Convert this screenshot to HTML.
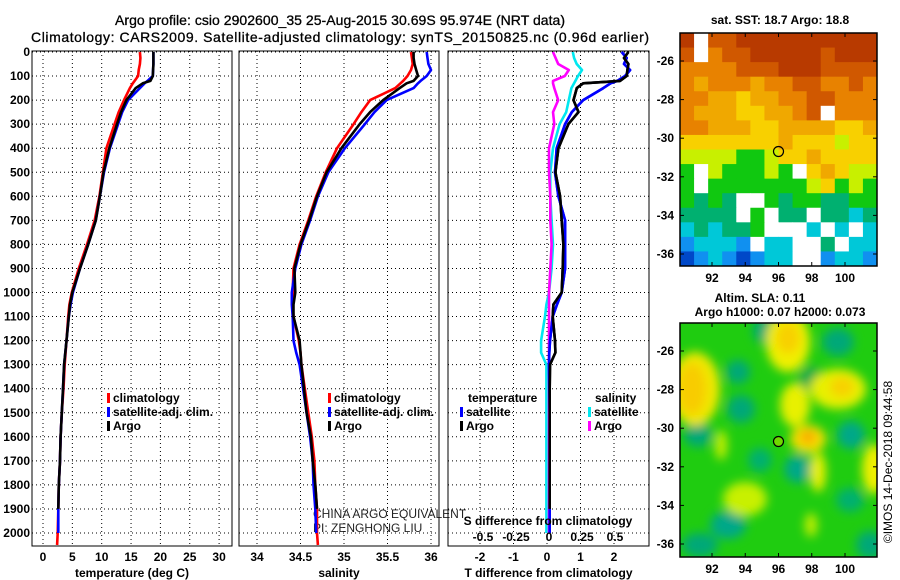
<!DOCTYPE html>
<html><head><meta charset="utf-8">
<style>
html,body{margin:0;padding:0;background:#fff;}
svg{display:block;font-family:"Liberation Sans",sans-serif;}
.tk{font-size:12px;font-weight:bold;}
</style></head>
<body>
<svg id="chart" width="900" height="580" viewBox="0 0 900 580" xmlns="http://www.w3.org/2000/svg">
<defs>
<filter id="blur" x="-20%" y="-20%" width="140%" height="140%"><feGaussianBlur stdDeviation="5"/></filter>
<clipPath id="clipSla"><rect x="680" y="323" width="197" height="234"/></clipPath>
</defs>
<text x="340" y="25" text-anchor="middle" font-size="14" stroke="#000" stroke-width="0.3" textLength="450">Argo profile: csio 2902600_35 25-Aug-2015 30.69S 95.974E (NRT data)</text>
<text x="340" y="42" text-anchor="middle" font-size="14" stroke="#000" stroke-width="0.3" textLength="618">Climatology: CARS2009. Satellite-adjusted climatology: synTS_20150825.nc (0.96d earlier)</text>
<text x="780" y="24" text-anchor="middle" class="tk">sat. SST: 18.7 Argo: 18.8</text>
<text x="760" y="302" text-anchor="middle" class="tk">Altim. SLA: 0.11</text>
<text x="780" y="316" text-anchor="middle" class="tk">Argo h1000: 0.07 h2000: 0.073</text>
<text transform="translate(892,462) rotate(-90)" text-anchor="middle" font-size="12">©IMOS 14-Dec-2018 09:44:58</text>
<text x="313" y="518" font-size="12" fill="#222">CHINA ARGO EQUIVALENT</text>
<text x="313" y="532" font-size="12" fill="#222">PI: ZENGHONG LIU</text>
<g id="g"></g>
</svg>
<script>
const depths=[0,25,50,75,100,120,130,150,200,250,300,400,500,600,700,800,900,1000,1050,1100,1200,1250,1300,1400,1500,1600,1700,1800,1900,2000,2050];
const tClim=[16.5,16.6,16.5,16.3,16.2,15.6,15.3,14.8,13.8,12.9,12.2,10.8,10.2,9.6,8.8,7.5,6.1,4.9,4.5,4.3,4.0,3.85,3.7,3.5,3.2,3.0,2.9,2.7,2.6,2.5,2.4];
const tSat=[18.8,18.8,18.8,18.75,18.7,17.8,17.3,16.5,14.5,13.5,12.8,11.4,10.4,9.7,9.0,7.7,6.3,5.1,4.7,4.4,4.0,3.8,3.6,3.4,3.2,3.0,2.9,2.7,2.6,2.6,null];
const tArgo=[18.8,18.8,18.8,18.75,18.7,18.3,17.0,15.8,14.2,13.3,12.6,11.3,10.3,9.7,9.0,7.7,6.3,5.0,4.6,4.4,4.0,3.8,3.6,3.4,3.2,3.0,2.9,2.7,2.6,null,null];
const sClim=[35.77,35.78,35.79,35.77,35.73,35.68,35.65,35.59,35.30,35.2,35.11,34.92,34.79,34.68,34.59,34.49,34.42,34.41,34.41,34.42,34.48,34.5,34.51,34.55,34.59,34.63,34.66,34.67,34.69,34.69,34.70];
const sSat=[35.95,35.96,35.97,36.0,35.95,35.88,35.85,35.80,35.49,35.35,35.24,35.01,34.82,34.70,34.61,34.51,34.44,34.40,34.40,34.41,34.42,34.45,34.49,34.53,34.57,34.61,34.64,34.65,34.67,34.68,null];
const sArgo=[35.80,35.80,35.81,35.83,35.85,35.80,35.72,35.64,35.45,35.30,35.18,34.97,34.80,34.69,34.60,34.50,34.43,34.44,34.42,34.42,34.49,34.50,34.51,34.54,34.57,34.62,34.64,34.67,34.69,null,null];
const dTSat=[2.23,2.38,2.3,2.48,2.33,2.1,1.9,1.68,1.08,0.74,0.54,0.29,0.24,0.34,0.54,0.54,0.54,0.44,0.3,0.17,0.09,0.07,0.06,0.07,0.08,0.08,0.08,0.08,0.08,0.08,null];
const dTArgo=[2.43,2.3,2.43,2.4,2.38,2.18,1.08,0.89,0.79,0.94,0.64,0.34,0.25,0.39,0.44,0.49,0.47,0.44,0.19,0.17,0.24,0.25,0.09,0.08,0.08,0.08,0.08,0.08,0.08,null,null];
const dSSat=[0.18,0.19,0.21,0.25,0.22,0.2,0.19,0.17,0.15,0.13,0.08,0.03,0.01,0.01,0.02,0.03,0.02,0.0,-0.02,-0.03,-0.06,-0.06,-0.02,-0.02,-0.02,-0.02,-0.02,-0.02,-0.02,-0.02,null];
const dSArgo=[0.03,0.05,0.07,0.15,0.12,0.03,0.03,0.04,0.07,0.03,0.04,0.0,0.0,0.01,0.01,0.02,0.01,0.0,0.0,0.0,0.0,0.0,0.0,0.0,0.0,0.0,0.0,0.0,0.0,0.0,null];
const depthTicks=[0,100,200,300,400,500,600,700,800,900,1000,1100,1200,1300,1400,1500,1600,1700,1800,1900,2000];
const tTicks=[0,5,10,15,20,25,30];
const sTicks=[34,34.5,35,35.5,36];
const sTickLabels=["34","34.5","35","35.5","36"];
const dtTicks=[-2,-1,0,1,2];
const dsTicks=[-0.5,-0.25,0,0.25,0.5];
const dsTickLabels=["-0.5","-0.25","0","0.25","0.5"];
const lonTicks=[92,94,96,98,100];
const latTicks=[-26,-28,-30,-32,-34,-36];
const sstGrid=[
[0,-1,1,1,0,0,0,0,0,0,0,0,0,0],
[1,-1,2,1,1,0,0,0,0,0,1,0,0,0],
[2,2,2,2,1,1,1,0,0,0,1,1,1,1],
[2,3,2,2,2,3,2,2,1,1,2,2,1,2],
[2,2,3,3,4,3,3,2,2,1,1,2,2,2],
[2,3,3,3,4,4,3,3,2,1,-1,2,2,2],
[2,2,3,3,3,4,4,3,3,3,3,4,4,3],
[4,4,4,4,4,4,4,3,4,4,4,5,4,4],
[5,5,5,5,6,6,5,4,4,3,4,4,4,4],
[6,-1,5,6,6,6,5,6,-1,4,3,4,5,5],
[6,-1,6,6,6,6,6,6,6,5,4,6,5,6],
[6,7,6,7,-1,-1,6,7,6,6,7,7,6,6],
[7,7,7,7,-1,6,-1,7,7,-1,7,7,8,7],
[8,7,8,7,7,6,-1,-1,-1,8,-1,8,-1,8],
[9,8,8,8,9,-1,8,8,-1,-1,7,-1,8,8],
[10,9,8,9,10,9,8,8,-1,-1,9,8,8,9]];
const sstColors=["#b83a00","#d05800","#e88200","#f0a800","#f8d000","#c8f000","#10c810","#00b070","#00c8d8","#1090f0","#0048c8"];
const argoLon=96.0, argoLat=-30.69;

const NS="http://www.w3.org/2000/svg";
const g=document.getElementById('g');
function mk(tag,attrs,parent){const e=document.createElementNS(NS,tag);for(const k in attrs)e.setAttribute(k,attrs[k]);(parent||g).appendChild(e);return e;}
function txt(x,y,s,anchor,cls,parent){const t=mk('text',{x:x,y:y,'text-anchor':anchor||'middle'},parent);if(cls)t.setAttribute('class',cls);t.textContent=s;return t;}
const yTop=51,yBot=546;
function yD(d){return 52+0.2405*d;}

const panels=[
 {name:'temperature',x0:32,x1:232,f:v=>43+5.87*v,ticks:tTicks,labels:tTicks.map(String),title:'temperature (deg C)',series:[[tClim,'#f00'],[tSat,'#00f'],[tArgo,'#000']]},
 {name:'salinity',x0:239,x1:439,f:v=>257+87*(v-34),ticks:sTicks,labels:sTickLabels,title:'salinity',series:[[sClim,'#f00'],[sSat,'#00f'],[sArgo,'#000']]},
 {name:'difference',x0:448,x1:649,f:v=>547+33.5*v,ticks:dtTicks,labels:dtTicks.map(String),title:'T difference from climatology',series:[[dTSat,'#00f'],[dTArgo,'#000']]}
];
const fS=v=>549+132*v;

panels.forEach(p=>{
  const pg=mk('g',{});
  
  
  depthTicks.forEach(d=>{const l=mk('line',{x1:p.x0,x2:p.x1,y1:yD(d),y2:yD(d),stroke:'#000','stroke-width':1,'stroke-dasharray':'1,3'},pg);
    
    });
  p.ticks.forEach((v,i)=>{const x=p.f(v);
    const l=mk('line',{x1:x,x2:x,y1:yTop,y2:yBot,stroke:'#000','stroke-width':1,'stroke-dasharray':'1,3'},pg);
    
    
    const t=txt(x,561,p.labels[i],'middle','tk',pg);
    
    });
  const at=txt((p.x0+p.x1)/2,577,p.title,'middle','tk',pg);
  
  
  p.series.forEach(([arr,col])=>{
    let pts=[];depths.forEach((d,i)=>{if(arr[i]!==null)pts.push(p.f(arr[i]).toFixed(1)+','+yD(d).toFixed(1));});
    const pl=mk('polyline',{points:pts.join(' '),fill:'none',stroke:col,'stroke-width':2.6,'stroke-linejoin':'round'},pg);
    
    
  });
  const fr=mk('rect',{x:p.x0,y:yTop,width:p.x1-p.x0,height:yBot-yTop,fill:'none',stroke:'#000','stroke-width':1},pg);
  
  
});
[[dSSat,'#00e8f0'],[dSArgo,'#f0f']].forEach(([arr,col])=>{
  let pts=[];depths.forEach((d,i)=>{if(arr[i]!==null)pts.push(fS(arr[i]).toFixed(1)+','+yD(d).toFixed(1));});
  const pl=mk('polyline',{points:pts.join(' '),fill:'none',stroke:col,'stroke-width':2.6,'stroke-linejoin':'round'});
  
  
});
panels[2].series.forEach(([arr,col])=>{
  let pts=[];depths.forEach((d,i)=>{if(arr[i]!==null)pts.push(panels[2].f(arr[i]).toFixed(1)+','+yD(d).toFixed(1));});
  const pl=mk('polyline',{points:pts.join(' '),fill:'none',stroke:col,'stroke-width':2.6,'stroke-linejoin':'round'});
  
  
});
const sdt=txt(548,525,'S difference from climatology','middle','tk');


dsTicks.forEach((v,i)=>{const t=txt(fS(v),541,dsTickLabels[i],'middle','tk');
  
  });
depthTicks.forEach(d=>{const t=txt(30,yD(d)+4,String(d),'end','tk');
  
  });
function legend(x,y,col,label){const lg=mk('g',{});
  
  
  mk('rect',{x:x,y:y-9,width:3,height:10,fill:col},lg);
  txt(x+6,y,label,'start','tk',lg);}
legend(107,402,'#f00','climatology');legend(107,416,'#00f','satellite-adj. clim.');legend(107,430,'#000','Argo');
legend(328,402,'#f00','climatology');legend(328,416,'#00f','satellite-adj. clim.');legend(328,430,'#000','Argo');
const lt=txt(468,402,'temperature','start','tk');
legend(460,416,'#00f','satellite');legend(460,430,'#000','Argo');
const ls=txt(595,402,'salinity','start','tk');
legend(588,416,'#00e8f0','satellite');legend(588,430,'#f0f','Argo');

function lonX(l){return 712+16.625*(l-92);}
function mapAxes(top,bot,lat26,name){
  const latY=l=>lat26+19.3*(-26-l);
  const ag=mk('g',{});
  
  
  mk('rect',{x:680,y:top,width:197,height:bot-top,fill:'none',stroke:'#000','stroke-width':1.5},ag);
  latTicks.forEach(l=>{const y=latY(l);
    mk('line',{x1:680,x2:684,y1:y,y2:y,stroke:'#000'},ag);mk('line',{x1:873,x2:877,y1:y,y2:y,stroke:'#000'},ag);
    txt(674,y+4,String(l),'end','tk',ag);});
  lonTicks.forEach(l=>{const x=lonX(l);
    mk('line',{x1:x,x2:x,y1:top,y2:top+4,stroke:'#000'},ag);mk('line',{x1:x,x2:x,y1:bot-4,y2:bot,stroke:'#000'},ag);
    txt(x,bot+16,String(l),'middle','tk',ag);});
  return latY;
}
const sg=mk('g',{});


const cw=197/14,ch=(266-33)/16;
sstGrid.forEach((row,r)=>row.forEach((v,c)=>{
  const cell=mk('rect',{x:(680+c*cw).toFixed(2),y:(33+r*ch).toFixed(2),width:(cw+0.5).toFixed(2),height:(ch+0.5).toFixed(2),fill:v<0?'#fff':sstColors[v]},sg);
  
  
}));
const latY1=mapAxes(33,266,61,'sst-map');
const m1=mk('circle',{cx:lonX(argoLon),cy:latY1(argoLat),r:5,fill:'none',stroke:'#000','stroke-width':1.2});


const lg2=mk('g',{'clip-path':'url(#clipSla)'});


mk('rect',{x:680,y:323,width:197,height:234,fill:'#1fcc10'},lg2);
const blobs=mk('g',{filter:'url(#blur)'},lg2);
[[741,409,14,14,'#00a878'],[811,379,12,12,'#00a850'],[851,435,14,14,'#00a888'],[798,469,14,14,'#00a888'],[728,525,18,14,'#00a888'],[838,342,16,14,'#00a878'],[698,435,14,12,'#00a878'],[738,372,12,12,'#00a878'],[700,545,18,12,'#00a878'],[870,545,14,14,'#00a878'],[765,330,12,14,'#00a878'],[760,460,12,12,'#00b070'],[850,500,14,12,'#00b070'],
 [695,389,25,37,'#f0e800'],[692,389,14,26,'#f8cc00'],[788,342,22,30,'#f0f000'],[788,338,12,16,'#f8d000'],[838,389,28,20,'#e8f000'],[842,387,12,10,'#f8d000'],[795,405,15,22,'#e8f000'],[808,439,18,14,'#f8e000'],[808,437,8,7,'#f8a800'],[818,472,8,20,'#e8f000'],[874,469,12,25,'#f0f000'],[745,499,22,17,'#c8f000'],[721,445,6,15,'#c8f000'],[811,525,6,12,'#c8f000']]
 .forEach(b=>{const e=mk('ellipse',{cx:b[0],cy:b[1],rx:b[2],ry:b[3],fill:b[4]},blobs);
   
   });
const latY2=mapAxes(323,557,351,'sla-map');
const m2=mk('circle',{cx:lonX(argoLon),cy:latY2(argoLat),r:5,fill:'#70d800',stroke:'#000','stroke-width':1.2});


</script>
</body></html>
